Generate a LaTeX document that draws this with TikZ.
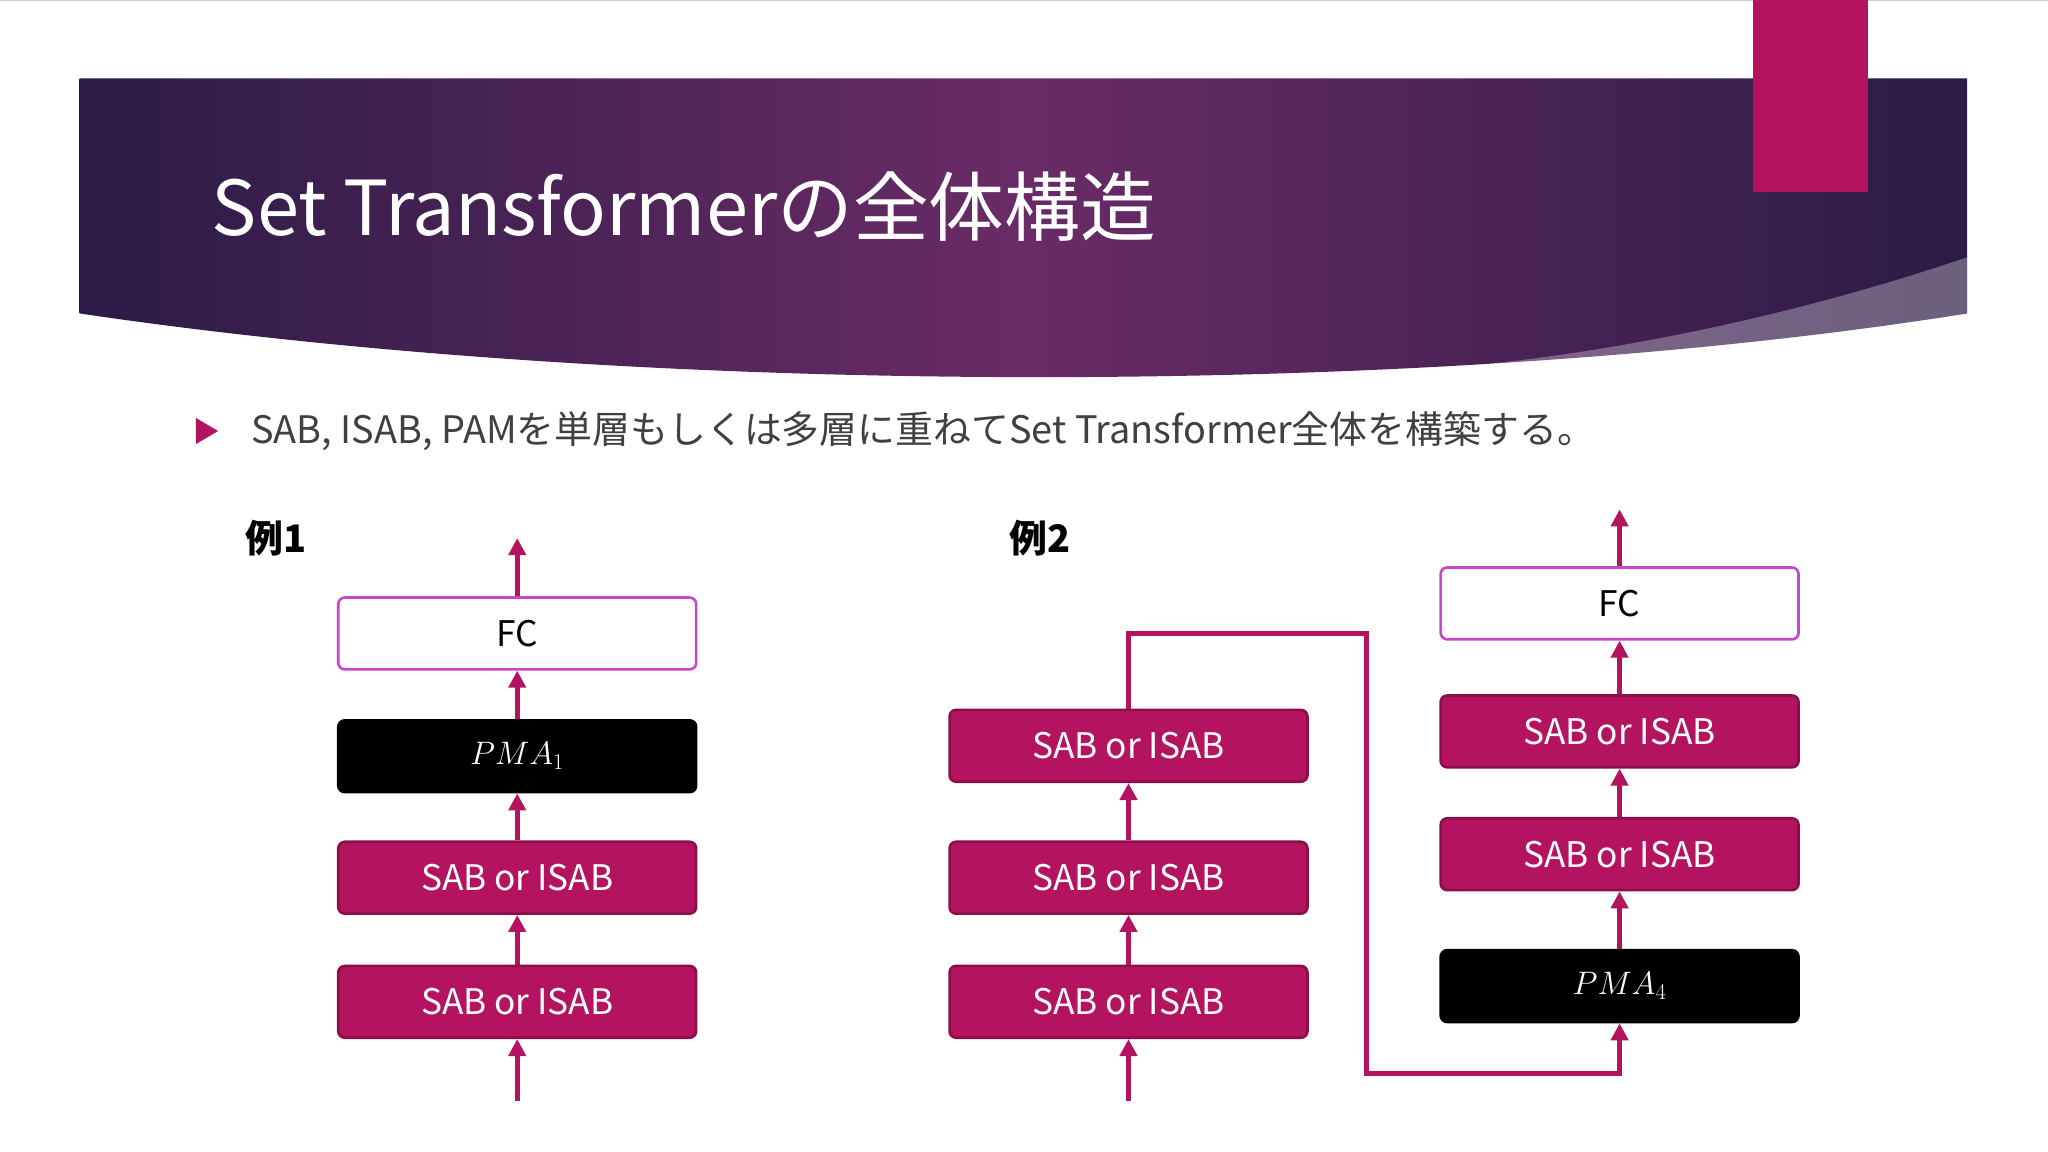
\documentclass[tikz,border=0pt]{standalone}
\usepackage{fontspec}
\setmainfont{Noto Sans CJK JP}
\usetikzlibrary{arrows.meta}
\definecolor{mag}{HTML}{B4135F}
\definecolor{magd}{HTML}{8C0E49}
\definecolor{orch}{HTML}{CC44CC}
\definecolor{hdark}{HTML}{2B1B47}
\definecolor{hmid}{HTML}{6A2B66}
\begin{document}
\begin{tikzpicture}[x=1pt,y=-1pt,
  box/.style={draw=magd,line width=2pt,fill=mag,rounded corners=5pt,minimum width=274pt,minimum height=55pt,text=white,font=\fontsize{27}{30}\selectfont,inner sep=0pt},
  fcbox/.style={box,draw=orch,fill=white,text=black},
  pma/.style={box,draw=black,fill=black},
  arr/.style={draw=mag,line width=4pt,-{Triangle[length=13pt,width=13pt]}},
  ln/.style={draw=mag,line width=4pt}]
\useasboundingbox (0,0) rectangle (1568,882);
\fill[white] (0,0) rectangle (1568,882);
\draw[gray!40] (0,0.5) -- (1568,0.5);
% header
\shade[left color=hdark,right color=hdark,middle color=hmid]
  (61,60) -- (1506,60) -- (1506,240) .. controls (1100,305) and (500,305) .. (61,240) -- cycle;
\fill[white,opacity=0.3] (1506,197) .. controls (1350,250) and (1200,275) .. (1100,282)
  .. controls (1300,270) and (1420,255) .. (1506,240) -- cycle;
\fill[mag] (1342,0) rectangle (1430,147);
\node[anchor=base west,text=white,font=\fontsize{58}{60}\selectfont,inner sep=0] (title) at (162,180) {Set Transformerの全体構造};
\fill[mag] (150,320) -- (167,330) -- (150,340) -- cycle;
\node[anchor=west,text=black!75,font=\fontsize{29}{32}\selectfont,inner sep=0] (bul) at (192,330) {SAB, ISAB, PAMを単層もしくは多層に重ねてSet Transformer全体を構築する。};
\node[anchor=west,font=\fontsize{29}{32}\selectfont\bfseries,inner sep=0] (e1) at (188,412) {例1};
\node[anchor=west,font=\fontsize{29}{32}\selectfont\bfseries,inner sep=0] (e2) at (773,412) {例2};
% example 1
\node[fcbox] (a4) at (396,485) {FC};
\node[pma] (a3) at (396,579) {$PMA_1$};
\node[box] (a2) at (396,672) {SAB or ISAB};
\node[box] (a1) at (396,767) {SAB or ISAB};
\coordinate (ain) at (396,843);
\coordinate (aout) at (396,412);
\draw[arr] (ain) -- (a1.south);
\draw[arr] (a1.north) -- (a2.south);
\draw[arr] (a2.north) -- (a3.south);
\draw[arr] (a3.north) -- (a4.south);
\draw[arr] (a4.north) -- (aout);
% example 2 left
\node[box] (b3) at (864,571) {SAB or ISAB};
\node[box] (b2) at (864,672) {SAB or ISAB};
\node[box] (b1) at (864,767) {SAB or ISAB};
\coordinate (bin) at (864,843);
\draw[arr] (bin) -- (b1.south);
\draw[arr] (b1.north) -- (b2.south);
\draw[arr] (b2.north) -- (b3.south);
% right
\node[pma] (c1) at (1240,755) {$PMA_4$};
\node[box] (c2) at (1240,654) {SAB or ISAB};
\node[box] (c3) at (1240,560) {SAB or ISAB};
\node[fcbox] (c4) at (1240,462) {FC};
\coordinate (cout) at (1240,390);
\draw[arr] (b3.north) -- (864,485) -- (1046,485) -- (1046,822) -- (1240,822) -- (c1.south);
\draw[arr] (c1.north) -- (c2.south);
\draw[arr] (c2.north) -- (c3.south);
\draw[arr] (c3.north) -- (c4.south);
\draw[arr] (c4.north) -- (cout);
\end{tikzpicture}
\end{document}
